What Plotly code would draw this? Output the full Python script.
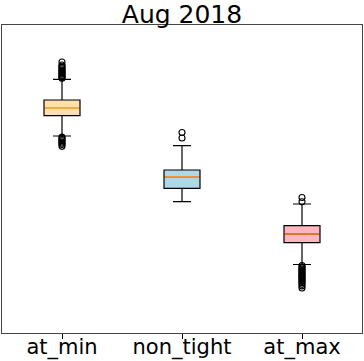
import plotly.graph_objects as go

categories = ["at_min", "non_tight", "at_max"]
q1 = [70.55, 46.98, 29.32]
median = [72.95, 50.75, 32.14]
q3 = [75.65, 52.92, 34.84]
lower_whisker = [63.96, 42.63, 22.24]
upper_whisker = [82.37, 60.81, 41.88]
fill_colors = ["#FFDFAE", "#ADD8E6", "#FFB6C1"]
median_colors = ["#FFA94D", "#F0903A", "#FF7F0E"]

outliers_at_min = [82.7, 83.0, 83.3, 83.6, 84.0, 84.3, 84.7, 85.0, 85.4, 85.8,
                   86.2, 86.6, 87.0, 88.0,
                   63.6, 63.2, 62.8, 62.4, 62.0, 61.6, 61.2, 60.6]
outliers_non_tight = [65.1, 63.3]
outliers_at_max = [44.0, 42.6,
                   21.9, 21.5, 21.1, 20.7, 20.3, 19.9, 19.5, 19.1, 18.7, 18.3,
                   17.9, 17.5, 17.1, 16.7, 16.3, 15.8, 15.3, 14.6]
outliers = [outliers_at_min, outliers_non_tight, outliers_at_max]

BOX_W = 0.3
fig = go.Figure()
for i, cat in enumerate(categories):
    fig.add_trace(go.Box(
        x=[i], q1=[q1[i]], median=[median[i]], q3=[q3[i]],
        lowerfence=[lower_whisker[i]], upperfence=[upper_whisker[i]],
        fillcolor=fill_colors[i], line=dict(color="black", width=1.2),
        width=BOX_W, whiskerwidth=0.5, boxpoints=False, showlegend=False,
        hoverinfo="skip", name=cat))
    fig.add_trace(go.Scatter(
        x=[i - BOX_W / 2 + 0.005, i + BOX_W / 2 - 0.005], y=[median[i], median[i]],
        mode="lines", line=dict(color=median_colors[i], width=1.5),
        showlegend=False, hoverinfo="skip"))
    fig.add_trace(go.Scatter(
        x=[i] * len(outliers[i]), y=outliers[i], mode="markers",
        marker=dict(symbol="circle-open", size=6, color="black", line=dict(width=1.1)),
        showlegend=False, hoverinfo="skip"))

fig.update_layout(
    width=364, height=361, autosize=False,
    margin=dict(l=2, r=2, t=25, b=28, autoexpand=False),
    paper_bgcolor="white", plot_bgcolor="white",
    font=dict(family="DejaVu Sans", color="black"),
    title=dict(text="Aug 2018", x=0.5, xanchor="center", xref="paper",
               y=1, yref="paper", yanchor="bottom", pad=dict(b=2), automargin=False,
               font=dict(size=25, family="DejaVu Sans", color="black")),
    xaxis=dict(range=[-0.5, 2.5], tickmode="array", tickvals=[0, 1, 2],
               ticktext=categories, ticks="outside", ticklen=5, tickcolor="black",
               ticklabelstandoff=-10,
               tickfont=dict(size=21), showgrid=False, zeroline=False, automargin=False,
               showline=True, mirror=True, linecolor="#444", linewidth=1.3),
    yaxis=dict(range=[0, 100], showticklabels=False, ticks="", showgrid=False,
               zeroline=False, showline=True, mirror=True, linecolor="#444",
               linewidth=1.3, automargin=False),
)
fig.write_html("out.html", config={"displayModeBar": False},
               post_script="document.body.style.margin='0';document.body.style.overflow='hidden';")
